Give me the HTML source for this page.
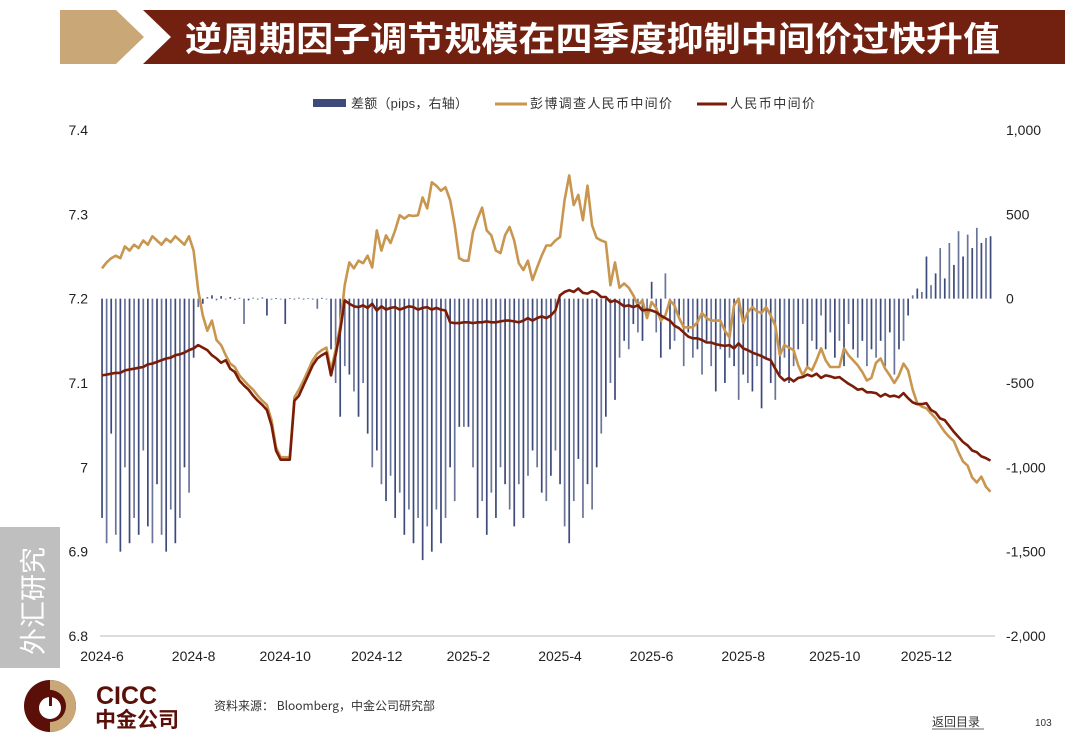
<!DOCTYPE html>
<html><head><meta charset="utf-8">
<style>
body{margin:0;width:1080px;height:755px;background:#fff;position:relative;overflow:hidden;font-family:"Liberation Sans","Noto Sans CJK SC",sans-serif;}
.abs{position:absolute;}
</style></head><body>
<svg class="abs" style="left:0;top:0" width="1080" height="755">
  <polygon points="60,10 116,10 144,37 116,64 60,64" fill="#c9a777"/>
  <polygon points="143,10 1065,10 1065,64 143,64 171,37" fill="#722010"/>
  <text x="185" y="51" fill="#fff" font-size="34" font-weight="bold" textLength="815" lengthAdjust="spacingAndGlyphs" font-family="'Noto Sans CJK SC',sans-serif">逆周期因子调节规模在四季度抑制中间价过快升值</text>
  <rect x="0" y="527" width="60" height="141" fill="#bfbfbf"/>
  <text transform="translate(43,655) rotate(-90)" fill="#fff" font-size="27" font-family="'Noto Sans CJK SC',sans-serif">外汇研究</text>
  <g>
    <circle cx="50" cy="706" r="26" fill="#5a0f08"/>
    <path d="M50,680 A26,26 0 0 1 50,732 L50,722 A16,16 0 0 0 50,690 Z" fill="#c9a777"/>
    <circle cx="50" cy="708" r="11" fill="#fff"/>
    <rect x="49" y="690" width="3" height="16" fill="#5a0f08"/>
    <text x="96" y="704" fill="#5a0f08" font-size="25" font-weight="bold">CICC</text>
    <text x="95" y="727" fill="#5a0f08" font-size="21" font-weight="bold" font-family="'Noto Sans CJK SC',sans-serif">中金公司</text>
  </g>
  <text x="214" y="710" font-size="12" fill="#333" font-family="'Noto Sans CJK SC',sans-serif">资料来源： Bloomberg，中金公司研究部</text>
  <text x="932" y="726" font-size="12" fill="#333" font-family="'Noto Sans CJK SC',sans-serif">返回目录</text>
  <line x1="932" y1="729" x2="984" y2="729" stroke="#333" stroke-width="0.8"/>
  <text x="1035" y="726" font-size="10" fill="#333">103</text>
  <g id="chart"></g>
</svg>
<script>
const xTickLabels=["2024-6","2024-8","2024-10","2024-12","2025-2","2025-4","2025-6","2025-8","2025-10","2025-12"];
const leftTicks=[7.4,7.3,7.2,7.1,7,6.9,6.8];
const rightTicks=[1000,500,0,-500,-1000,-1500,-2000];
const rightTickLabels=["1,000","500","0","-500","-1,000","-1,500","-2,000"];
// all series sampled every 0.1 month starting 2024-6-1
const spreadValues=[
-1300,-1450,-800,-1400,-1500,-1000,-1450,-1300,-1400,-900,-1350,-1450,-1100,-1400,-1500,-1250,-1450,-1300,-1000,-1150,
-350,-50,-30,10,20,-10,15,
-5,10,-8,5,-150,-10,6,-4,8,-100,-6,3,-5,-150,4,-3,6,-5,3,-4,-60,5,-3,-300,-500,-700,
-400,-450,-550,-700,-500,-800,-1000,-900,-1100,-1200,-1050,-1300,-1150,-1400,-1250,-1450,-1300,-1550,-1350,-1500,-1250,-1450,-1300,-1000,-1200,-760,-760,-760,-1000,-1300,-1200,-1400,-1150,-1300,-1000,-1100,-1250,-1350,-1100,-1300,-1050,-900,-1000,-1150,-1200,-1050,-900,
-1100,-1350,-1450,-1200,-950,-1300,-1100,-1250,-1000,-800,-700,-500,-600,-350,-250,-300,-150,-200,-250,-100,
100,-200,-350,150,-300,-250,-100,-400,-200,-350,-300,-450,-250,-400,-550,-300,-500,-350,-400,-600,-450,-500,-550,-400,-650,-350,-500,-600,-450,-350,-500,-400,-300,-150,-400,-250,-300,-100,-300,-200,-350,-250,-400,-150,-300,-350,-250,-400,-300,-350,-250,-400,-200,-450,-300,-250,-100,20,60,40,250,80,150,300,120,330,200,400,250,380,300,420,330,360,370];
const midValues=[
7.109,7.110,7.111,7.112,7.112,7.115,7.116,7.117,7.118,7.119,7.122,7.123,7.125,7.127,7.129,7.130,7.133,7.134,7.136,7.139,
7.141,7.145,7.142,7.139,7.133,7.129,7.124,
7.127,7.117,7.113,7.103,7.097,7.092,7.085,7.079,7.074,7.068,7.050,7.020,7.009,7.009,7.009,7.079,7.085,7.097,7.109,7.121,7.129,7.133,7.136,7.109,7.133,7.162,
7.198,7.194,
7.191,7.190,7.192,7.189,7.194,7.186,7.191,7.187,7.189,7.190,7.187,7.189,7.191,7.190,7.187,7.189,7.190,7.187,7.189,7.187,7.186,
7.172,7.171,7.171,7.172,7.172,7.171,7.172,7.172,7.173,7.172,7.172,7.173,7.174,7.174,7.173,7.172,7.174,7.177,7.174,
7.177,7.179,7.177,7.180,7.186,
7.204,7.208,7.210,7.208,7.212,7.207,7.206,7.209,7.207,
7.202,7.202,7.196,7.198,7.195,7.191,7.192,7.190,7.192,7.186,7.187,
7.186,7.184,7.180,7.177,7.174,7.168,7.165,7.160,7.155,7.153,7.153,7.151,7.148,7.148,7.146,7.145,7.144,7.145,7.141,7.147,7.141,7.139,7.136,7.134,7.132,7.129,7.127,7.117,7.108,7.103,7.106,7.102,7.106,7.107,7.110,7.108,7.111,7.106,7.109,7.108,7.106,7.107,7.103,7.099,7.096,7.092,7.093,7.089,7.089,7.088,7.084,7.087,7.084,7.085,7.083,7.088,7.082,7.077,7.075,7.075,7.076,7.068,7.065,7.058,7.056,7.049,7.042,7.036,7.030,7.026,7.020,7.018,7.013,7.011,7.008];
const fixValues=[
7.236,7.243,7.248,7.251,7.248,7.262,7.257,7.264,7.260,7.269,7.264,7.274,7.269,7.264,7.271,7.267,7.274,7.269,7.264,7.274,
7.257,7.210,7.180,7.162,7.174,7.151,7.145,
7.133,7.123,7.119,7.109,7.103,7.097,7.092,7.085,7.079,7.074,7.056,7.024,7.012,7.012,7.012,7.083,7.092,7.103,7.115,7.127,7.135,7.139,7.142,7.115,7.139,7.168,
7.216,7.243,7.236,7.245,7.242,7.251,7.237,7.281,7.257,7.275,
7.266,7.281,7.299,7.295,7.299,7.298,7.299,7.320,7.307,7.338,
7.334,7.328,7.332,7.317,7.287,7.248,7.245,7.245,7.279,7.295,
7.308,7.281,7.275,7.257,7.254,7.275,7.285,7.269,7.242,7.234,
7.245,7.222,7.237,7.251,7.263,7.263,7.269,7.273,7.317,7.346,
7.311,7.323,7.293,7.334,7.287,7.272,7.269,7.267,7.216,7.243,
7.213,7.218,7.213,7.204,7.192,7.198,7.177,7.196,7.189,7.174,
7.180,7.198,7.192,7.177,7.166,7.166,7.166,7.172,7.183,7.177,
7.174,7.174,7.174,7.162,7.154,7.192,7.200,7.171,7.184,7.190,
7.185,7.183,7.190,7.180,7.168,7.133,7.145,7.142,7.139,7.121,
7.109,7.119,7.115,7.127,7.141,7.127,7.119,7.119,7.119,7.141,
7.133,7.127,7.121,7.113,7.103,7.106,7.124,7.129,7.117,7.109,
7.100,7.109,7.123,7.115,7.092,7.076,7.072,7.070,7.064,7.058,
7.050,7.042,7.036,7.031,7.018,7.007,7.002,6.988,6.982,6.989,
6.977,6.971];

const NS="http://www.w3.org/2000/svg";
const g=document.getElementById('chart');
const X0=102,MW=45.8,Y_TOP=130,Y_BOT=636,STEP=0.1;
const xM=m=>X0+m*MW;
const yL=v=>Y_TOP+(7.4-v)/0.6*(Y_BOT-Y_TOP);
const yR=v=>Y_TOP+(1000-v)/3000*(Y_BOT-Y_TOP);
function mk(t,a){const e=document.createElementNS(NS,t);for(const k in a)e.setAttribute(k,a[k]);g.appendChild(e);return e;}
function txt(x,y,s,anchor,size,fill){const e=mk('text',{x:x,y:y,'text-anchor':anchor,'font-size':size,fill:fill||'#222'});e.textContent=s;return e;}

const ax=mk('line',{x1:100,y1:Y_BOT,x2:995,y2:Y_BOT,stroke:'#bbb','stroke-width':1});


leftTicks.forEach(v=>{const t=txt(88,yL(v)+5,String(v),'end',14);

});
rightTicks.forEach((v,i)=>{const t=txt(1006,yR(v)+5,rightTickLabels[i],'start',14);

});
xTickLabels.forEach((s,i)=>{const t=txt(xM(i*2),661,s,'middle',14);

});

spreadValues.forEach((v,i)=>{const x=xM(i*STEP);const y0=yR(0),y1=yR(v);
const b=mk('rect',{x:x-0.8,y:Math.min(y0,y1),width:1.7,height:Math.max(0.8,Math.abs(y1-y0)),fill:i%2?'#6a7499':'#3d4a7a'});

});

function line(vs,color,name){const d=vs.map((v,i)=>(i?'L':'M')+xM(i*STEP).toFixed(1)+','+yL(v).toFixed(1)).join('');
const p=mk('path',{d:d,fill:'none',stroke:color,'stroke-width':2.6,'stroke-linejoin':'round'});

}
line(fixValues,'#c8964f','survey-fixing-line');
line(midValues,'#7a1c08','cny-fixing-line');

// legend
const l1=mk('rect',{x:313,y:99,width:33,height:8,fill:'#3d4a7a'});


const t1=txt(351,108,'差额（pips，右轴）','start',13,'#333');
t1.setAttribute('textLength','117');


const l2=mk('line',{x1:495,y1:104,x2:527,y2:104,stroke:'#c8964f','stroke-width':3});


const t2=txt(530,108,'彭博调查人民币中间价','start',13,'#333');
t2.setAttribute('textLength','142');


const l3=mk('line',{x1:697,y1:104,x2:727,y2:104,stroke:'#7a1c08','stroke-width':3});


const t3=txt(730,108,'人民币中间价','start',13,'#333');
t3.setAttribute('textLength','85');


</script>
</body></html>
